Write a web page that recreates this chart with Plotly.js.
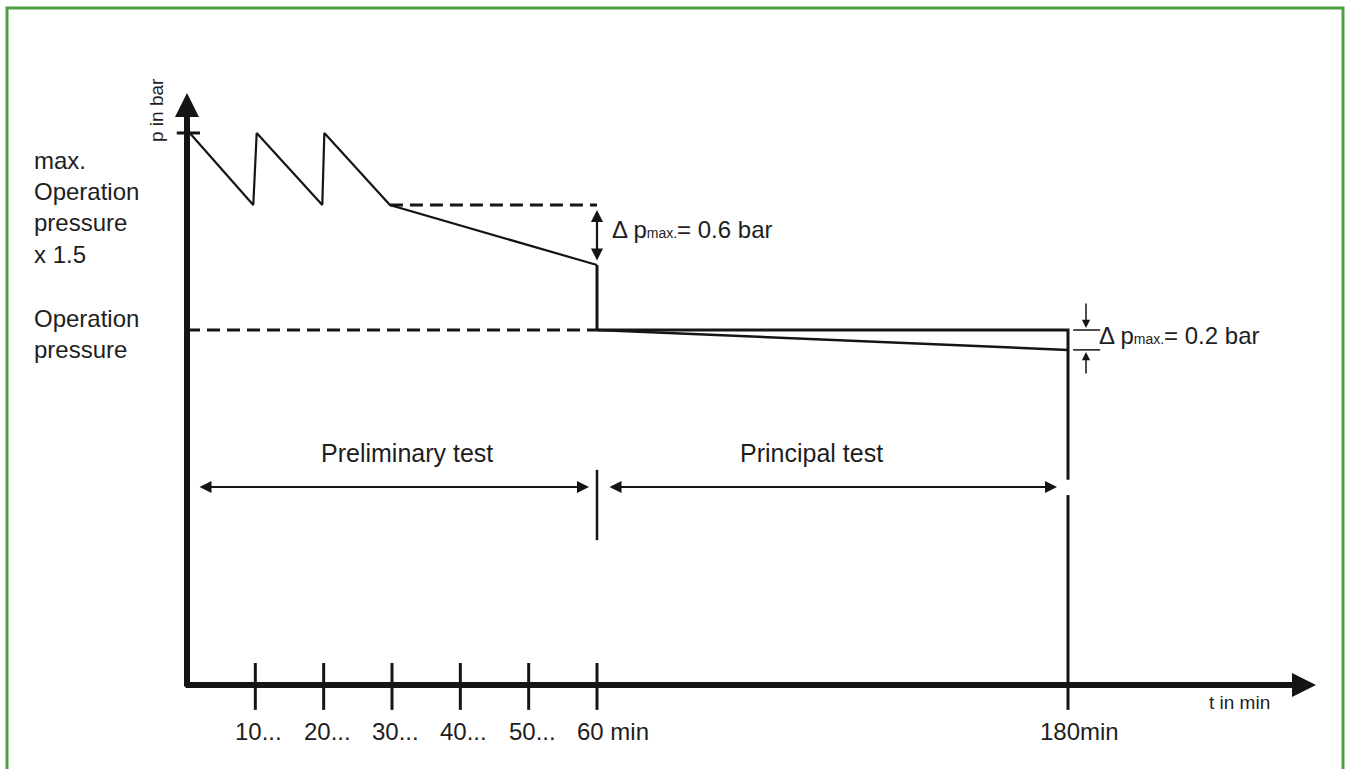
<!DOCTYPE html>
<html><head><meta charset="utf-8">
<script src="https://cdn.plot.ly/plotly-3.0.1.min.js"></script>
<style>html,body{margin:0;padding:0;background:#fff}#chart{width:1348px;height:769px}</style>
</head><body><div id="chart"></div>
<script>
// ---- DATA (time in minutes, pressure relative to operation pressure, schematic) ----
const prelimTime     = [0.4, 9.7, 10.2, 19.8, 20.1, 29.7, 60];
const prelimPressure = [1.555, 1.352, 1.555, 1.352, 1.555, 1.352, 1.183];
const dropTime       = [60, 60];
const dropPressure   = [1.183, 1.0];
const principalTime     = [60, 180];
const principalPressure = [1.0, 0.944];
const opPressure     = 1.0;
const maxPressure    = 1.555;
const holdPressure   = 1.352;
const tickTimes      = [10, 20, 30, 40, 50, 60];
const tickLabels     = ['10...', '20...', '30...', '40...', '50...', '60 min'];
const endTime        = 180;
const endLabel       = '180min';

// ---- styling / layout helpers ----
const INK = '#151515';
const TXT = '#1e1e1e';
const FONT = 'Liberation Sans, Arial, sans-serif';
const W = 1348, H = 769;
const ox = 187, oy = 685;          // origin in px
const pxPerMin1 = (597 - ox) / 60; // preliminary part
const pxPerMin2 = (1068 - 597) / 120; // principal part
const pxPerUnit = 355;
const x2DomStart = 0.40;
const x2RangeStart = 60 - (597 - x2DomStart * W) / pxPerMin2;

const traces = [];
function line(x, y, width, opts = {}) {
  traces.push(Object.assign({
    type: 'scatter', mode: 'lines', x, y, xaxis: 'x', yaxis: 'y',
    line: { color: INK, width, dash: opts.dash || 'solid' }, hoverinfo: 'skip',
    connectgaps: false
  }, opts.extra || {}));
}
// sawtooth preliminary test
line(prelimTime, prelimPressure, 2.2);
line(dropTime, dropPressure, 3);
// dashed reference lines
line([0, 60], [opPressure, opPressure], 3, { dash: '13px,7px' });
line([prelimTime[5], 60], [holdPressure, holdPressure], 3, { dash: '13px,7px' });
// top tick on y axis
line([-1.5, 1.9], [maxPressure, maxPressure], 3);
// x ticks
const tx = [], ty = [];
tickTimes.forEach(t => { tx.push(t, t, null); ty.push(0.062, -0.07, null); });
line(tx, ty, 3);
// separator at 60 min
line([60, 60], [0.606, 0.408], 2.5);
// principal test (x2)
line(principalTime, principalPressure, 2.5, { extra: { xaxis: 'x2' } });
line([60, endTime, endTime, null, endTime, endTime], [opPressure, opPressure, 0.578, null, 0.535, -0.07], 3, { extra: { xaxis: 'x2' } });
// delta 0.2 reference ticks
line([181.3, 188.2, null, 181.3, 188.2], [opPressure, opPressure, null, principalPressure[1], principalPressure[1]], 1.5, { extra: { xaxis: 'x2' } });

function arrow(xref, x, y, ax, ay, width, size, both) {
  return {
    xref, yref: 'y', axref: xref, ayref: 'y', x, y, ax, ay, text: '', showarrow: true,
    arrowhead: 2, arrowsize: size, arrowwidth: width, arrowcolor: INK,
    arrowside: both ? 'end+start' : 'end', startarrowhead: 2, startarrowsize: size
  };
}
function label(xref, x, y, text, size, opts = {}) {
  return Object.assign({
    xref, yref: 'y', x, y, text, showarrow: false,
    font: { family: FONT, size, color: TXT },
    xanchor: 'center', yanchor: 'middle', align: 'left'
  }, opts);
}
const pxToY = py => (oy - py) / pxPerUnit;
const pxToX1 = px => (px - ox) / pxPerMin1;
const pxToX2 = px => 60 + (px - 597) / pxPerMin2;

const annotations = [
  // axes
  arrow('x', 0, pxToY(93), 0, pxToY(688), 6, 0.8, false),
  arrow('x', pxToX1(1316), 0, pxToX1(184), 0, 6, 0.8, false),
  // phase arrows
  arrow('x', pxToX1(589), pxToY(487), pxToX1(198), pxToY(487), 2, 1.2, true),
  arrow('x2', pxToX2(1057), pxToY(487), pxToX2(608), pxToY(487), 2, 1.2, true),
  // delta arrows
  arrow('x', 60, pxToY(210), 60, pxToY(262), 2.2, 1.1, true),
  arrow('x2', pxToX2(1086), pxToY(328), pxToX2(1086), pxToY(302), 1.5, 1.1, false),
  arrow('x2', pxToX2(1086), pxToY(352), pxToX2(1086), pxToY(375), 1.5, 1.1, false),
  // texts
  label('x', pxToX1(32), pxToY(207), 'max.<br>Operation<br>pressure<br>x 1.5', 24, { xanchor: 'left' }),
  label('x', pxToX1(32), pxToY(334), 'Operation<br>pressure', 24, { xanchor: 'left' }),
  label('x', pxToX1(156), pxToY(110), 'p in bar', 19, { textangle: -90 }),
  label('x', pxToX1(1207), pxToY(702), 't in min', 19, { xanchor: 'left' }),
  label('x', pxToX1(407), pxToY(453), 'Preliminary test', 25),
  label('x2', pxToX2(811), pxToY(453), 'Principal test', 25),
  label('x2', pxToX2(610), pxToY(229), 'Δ p<span style="font-size:14px">max.</span>= 0.6 bar', 24, { xanchor: 'left' }),
  label('x2', pxToX2(1097), pxToY(335), 'Δ p<span style="font-size:14px">max.</span>= 0.2 bar', 24, { xanchor: 'left' })
];
tickTimes.forEach((t, i) => {
  annotations.push(label('x', t, pxToY(731), tickLabels[i], 24, { xanchor: 'left', xshift: -22 }));
});
annotations.push(label('x2', endTime, pxToY(731), endLabel, 24, { xanchor: 'left', xshift: -30 }));

const layout = {
  width: W, height: H,
  margin: { l: 0, r: 0, t: 0, b: 0, pad: 0 },
  paper_bgcolor: '#fff', plot_bgcolor: 'rgba(0,0,0,0)',
  showlegend: false,
  xaxis: { domain: [0, 1], range: [-ox / pxPerMin1, (W - ox) / pxPerMin1], visible: false, fixedrange: true },
  xaxis2: { domain: [x2DomStart, 1], range: [x2RangeStart, 60 + (W - 597) / pxPerMin2], anchor: 'y', visible: false, fixedrange: true },
  yaxis: { domain: [0, 1], range: [-(H - oy) / pxPerUnit, oy / pxPerUnit], visible: false, fixedrange: true },
  annotations,
  shapes: [{
    type: 'rect', xref: 'paper', yref: 'paper',
    x0: 7 / W, x1: 1343 / W, y0: -0.05, y1: 1 - 8 / H,
    line: { color: '#4c9f3f', width: 3 }, fillcolor: 'rgba(0,0,0,0)'
  }]
};
Plotly.newPlot('chart', traces, layout, { displayModeBar: false, staticPlot: true });
</script>
</body></html>
